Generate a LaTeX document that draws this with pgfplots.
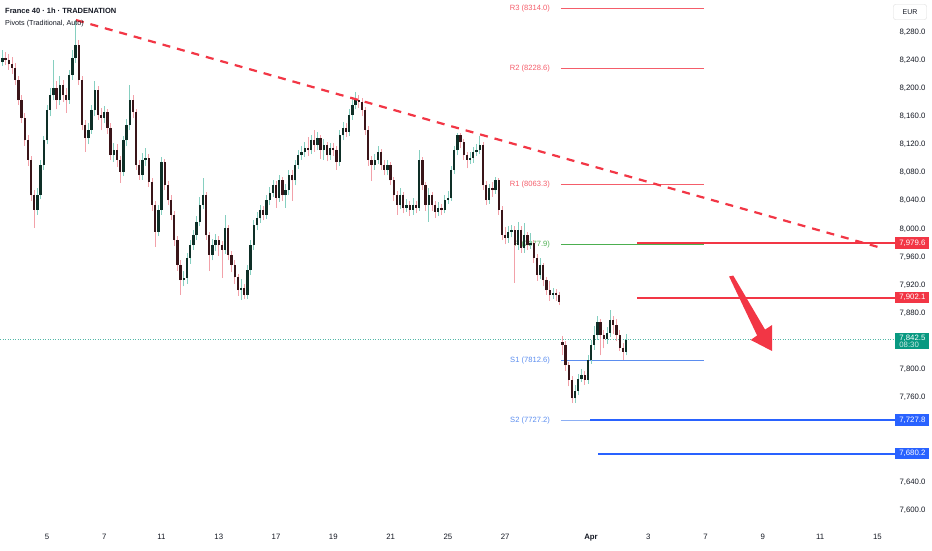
\documentclass[border=0pt]{standalone}
\usepackage{pgfplots}
\pgfplotsset{compat=1.18}
\usepackage{pgfplotstable}
\usepackage{fontspec}
\setmainfont{Liberation Sans}
\definecolor{tvred}{HTML}{F23645}
\definecolor{pivred}{HTML}{F45D6A}
\definecolor{pivgreen}{HTML}{4CAF50}
\definecolor{pivblue}{HTML}{5B8DEF}
\definecolor{tvblue}{HTML}{2962FF}
\definecolor{tvgreen}{HTML}{089981}
\definecolor{tvtext}{HTML}{131722}
\definecolor{wickup}{HTML}{86CFC0}
\definecolor{wickdown}{HTML}{F2A1A9}
\definecolor{bodyup}{HTML}{0E2F27}
\definecolor{bodydown}{HTML}{3A1519}
\pgfplotstableread{
n o h l c
3 8250 8262 8230 8237
4 8237 8255 8232 8243
5 8243 8252 8233 8240
6 8240 8248 8226 8234
7 8234 8244 8220 8229
8 8229 8236 8205 8212
9 8212 8218 8176 8183
10 8183 8190 8150 8158
11 8158 8165 8118 8126
12 8126 8134 8090 8098
13 8098 8104 8040 8048
14 8048 8055 8001 8027
15 8027 8058 8020 8048
16 8048 8098 8042 8091
17 8091 8132 8084 8126
18 8126 8176 8120 8169
19 8169 8200 8160 8190
20 8190 8240 8183 8200
21 8200 8210 8170 8183
22 8183 8218 8176 8205
23 8205 8212 8180 8190
24 8190 8200 8165 8183
25 8183 8226 8178 8219
26 8219 8255 8212 8243
27 8243 8297 8236 8262
28 8262 8268 8205 8212
29 8212 8218 8140 8148
30 8148 8155 8110 8129
31 8129 8150 8120 8141
32 8141 8176 8135 8169
33 8169 8210 8160 8197
34 8197 8203 8155 8162
35 8162 8172 8140 8158
36 8158 8175 8150 8166
37 8166 8170 8135 8144
38 8144 8150 8098 8105
39 8105 8122 8095 8112
40 8112 8120 8088 8098
41 8098 8104 8065 8081
42 8081 8132 8075 8126
43 8126 8156 8118 8148
44 8148 8205 8140 8183
45 8183 8190 8158 8166
46 8166 8170 8084 8091
47 8091 8098 8070 8077
48 8077 8108 8070 8098
49 8098 8115 8090 8101
50 8101 8106 8060 8067
51 8067 8072 8026 8034
52 8034 8040 7974 7996
53 7996 8034 7990 8027
54 8027 8102 8020 8095
55 8095 8100 8055 8062
56 8062 8068 8034 8041
57 8041 8048 8012 8020
58 8020 8026 7976 7984
59 7984 7990 7940 7949
60 7949 7955 7906 7927
61 7927 7940 7918 7930
62 7930 7966 7922 7959
63 7959 7984 7950 7977
64 7977 7999 7970 7991
65 7991 8018 7984 8010
66 8010 8045 8004 8034
67 8034 8072 8028 8048
68 8048 8052 7984 7991
69 7991 7996 7940 7963
70 7963 7986 7955 7977
71 7977 7992 7968 7984
72 7984 7990 7962 7977
73 7977 7982 7930 7970
74 7970 8020 7964 8001
75 8001 8006 7955 7963
76 7963 7968 7938 7949
77 7949 7955 7922 7931
78 7931 7936 7905 7913
79 7913 7928 7899 7916
80 7916 7922 7900 7906
81 7906 7948 7900 7941
82 7941 7984 7934 7977
83 7977 8012 7970 8005
84 8005 8024 7998 8015
85 8015 8034 8008 8027
86 8027 8032 8012 8020
87 8020 8048 8014 8041
88 8041 8060 8034 8051
89 8051 8070 8045 8062
90 8062 8068 8030 8044
91 8044 8076 8038 8069
92 8069 8074 8040 8048
93 8048 8064 8030 8055
94 8055 8084 8048 8077
95 8077 8083 8040 8069
96 8069 8098 8062 8091
97 8091 8112 8085 8105
98 8105 8118 8098 8109
99 8109 8124 8102 8115
100 8115 8130 8104 8112
101 8112 8134 8106 8126
102 8126 8140 8110 8119
103 8119 8138 8112 8129
104 8129 8134 8100 8112
105 8112 8128 8098 8119
106 8119 8124 8096 8105
107 8105 8122 8098 8115
108 8115 8122 8104 8112
109 8112 8118 8084 8095
110 8095 8140 8090 8133
111 8133 8152 8126 8144
112 8144 8150 8130 8138
113 8138 8170 8132 8162
114 8162 8184 8155 8176
115 8176 8195 8170 8183
116 8183 8190 8172 8180
117 8180 8186 8160 8169
118 8169 8174 8134 8141
119 8141 8146 8090 8098
120 8098 8104 8068 8091
121 8091 8106 8084 8098
122 8098 8118 8092 8109
123 8109 8114 8084 8091
124 8091 8098 8076 8084
125 8084 8098 8076 8091
126 8091 8095 8062 8069
127 8069 8074 8040 8048
128 8048 8054 8020 8034
129 8034 8058 8028 8048
130 8048 8052 8022 8030
131 8030 8042 8024 8034
132 8034 8040 8018 8027
133 8027 8044 8020 8034
134 8034 8040 8022 8030
135 8030 8112 8026 8098
136 8098 8102 8055 8062
137 8062 8066 8026 8034
138 8034 8058 8010 8048
139 8048 8052 8026 8034
140 8034 8040 8016 8024
141 8024 8038 8018 8030
142 8030 8036 8020 8027
143 8027 8048 8022 8041
144 8041 8054 8036 8044
145 8044 8090 8040 8084
146 8084 8118 8078 8112
147 8112 8137 8105 8133
148 8133 8136 8115 8123
149 8123 8128 8098 8105
150 8105 8110 8086 8098
151 8098 8110 8092 8101
152 8101 8116 8094 8109
153 8109 8120 8104 8112
154 8112 8132 8106 8119
155 8119 8124 8055 8062
156 8062 8068 8034 8041
157 8041 8064 8036 8058
158 8058 8066 8046 8055
159 8055 8074 8050 8069
160 8069 8072 8020 8027
161 8027 8032 7984 7991
162 7991 8002 7978 7987
163 7987 8004 7980 7996
164 7996 8006 7988 7998
165 7998 8004 7923 7977
166 7977 8010 7970 7998
167 7998 8004 7966 7973
168 7973 8008 7966 7991
169 7991 7996 7970 7977
170 7977 7994 7972 7980
171 7980 7984 7952 7959
172 7959 7964 7926 7934
173 7934 7958 7928 7949
174 7949 7952 7918 7927
175 7927 7932 7906 7913
176 7913 7926 7898 7906
177 7906 7916 7900 7909
178 7909 7914 7898 7906
179 7906 7910 7892 7896
180 7839 7848 7820 7835
181 7835 7840 7798 7806
182 7806 7810 7776 7785
183 7785 7790 7752 7759
184 7759 7778 7752 7770
185 7770 7794 7764 7787
186 7787 7800 7782 7792
187 7792 7798 7778 7785
188 7785 7820 7780 7813
189 7813 7842 7808 7835
190 7835 7862 7828 7849
191 7849 7876 7842 7867
192 7867 7872 7820 7849
193 7849 7856 7830 7844
194 7844 7860 7836 7852
195 7852 7884 7846 7870
196 7870 7876 7850 7863
197 7863 7872 7840 7849
198 7849 7856 7826 7831
199 7831 7838 7813 7825
200 7825 7850 7820 7842.5
}\candles
\begin{document}
\begin{tikzpicture}
\useasboundingbox (0,-23pt) rectangle (932pt,527pt);
\begin{axis}[
  at={(0,0)}, anchor=south west,
  scale only axis, width=885pt, height=527pt,
  xmin=3.226, xmax=281.4, ymin=7575.9, ymax=8325.5,
  clip=false,
  axis line style={draw=none},
  major tick length=0pt,
  ytick={7600,7640,7760,7800,7880,7920,7960,8000,8040,8080,8120,8160,8200,8240,8280},
  yticklabel pos=right,
  scaled y ticks=false,
  /pgf/number format/assume math mode=true,
  /pgf/number format/fixed,
  /pgf/number format/fixed zerofill,
  /pgf/number format/precision=1,
  /pgf/number format/1000 sep={,},
  yticklabel style={xshift=11pt},
  tick label style={font=\fontsize{7.8}{9}\selectfont, text=tvtext},
  xtick={18,36,54,72,90,108,126,144,162,189,207,225,243,261,279},
  xticklabels={5,7,11,13,17,19,21,25,27,\textbf{Apr},3,7,9,11,15},
  xticklabel style={yshift=-4pt},
]
% pivot labels
\node[anchor=east, text=pivred, font=\fontsize{7.6}{8}\selectfont] at (axis cs:177.2,8314.0) {R3 (8314.0)};
\node[anchor=east, text=pivred, font=\fontsize{7.6}{8}\selectfont] at (axis cs:177.2,8228.6) {R2 (8228.6)};
\node[anchor=east, text=pivred, font=\fontsize{7.6}{8}\selectfont] at (axis cs:177.2,8063.3) {R1 (8063.3)};
\node[anchor=east, text=pivgreen, font=\fontsize{7.6}{8}\selectfont] at (axis cs:177.2,7977.9) {P (7977.9)};
\node[anchor=east, text=pivblue, font=\fontsize{7.6}{8}\selectfont] at (axis cs:177.2,7812.6) {S1 (7812.6)};
\node[anchor=east, text=pivblue, font=\fontsize{7.6}{8}\selectfont] at (axis cs:177.2,7727.2) {S2 (7727.2)};
% pivot lines
\addplot[forget plot, pivred, line width=0.7pt] coordinates {(179.5,8314.0) (224.5,8314.0)};
\addplot[forget plot, pivred, line width=0.7pt] coordinates {(179.5,8228.6) (224.5,8228.6)};
\addplot[forget plot, pivred, line width=0.7pt] coordinates {(179.5,8063.3) (224.5,8063.3)};
\addplot[forget plot, pivgreen, line width=0.7pt] coordinates {(179.5,7977.9) (224.5,7977.9)};
\addplot[forget plot, pivblue, line width=0.7pt] coordinates {(179.5,7812.6) (224.5,7812.6)};
\addplot[forget plot, pivblue!70, line width=0.7pt] coordinates {(179.5,7727.2) (224.5,7727.2)};
% current price dotted line
\addplot[forget plot, tvgreen!70, line width=0.5pt, dash pattern=on 1pt off 1.5pt] coordinates {(3.226,7842.5) (284.6,7842.5)};
% wicks
\addplot[forget plot, draw=none, mark=none, error bars/.cd, y dir=plus, y explicit, error mark=none,
  error bar style={line width=0.7pt, draw=wickup}]
  table[x=n, y=l, y error plus expr={(\thisrow{c}>=\thisrow{o})*(\thisrow{h}-\thisrow{l})}] {\candles};
\addplot[forget plot, draw=none, mark=none, error bars/.cd, y dir=plus, y explicit, error mark=none,
  error bar style={line width=0.7pt, draw=wickdown}]
  table[x=n, y=l, y error plus expr={(\thisrow{c}<\thisrow{o})*(\thisrow{h}-\thisrow{l})}] {\candles};
% bodies
\addplot[forget plot, draw=none, mark=none, error bars/.cd, y dir=plus, y explicit, error mark=none,
  error bar style={line width=2.3pt, draw=bodyup}]
  table[x=n, y=o, y error plus expr={(\thisrow{c}>=\thisrow{o})*max(\thisrow{c}-\thisrow{o},1.2)}] {\candles};
\addplot[forget plot, draw=none, mark=none, error bars/.cd, y dir=plus, y explicit, error mark=none,
  error bar style={line width=2.3pt, draw=bodydown}]
  table[x=n, y=c, y error plus expr={(\thisrow{c}<\thisrow{o})*max(\thisrow{o}-\thisrow{c},1.2)}] {\candles};
% trend line
\addplot[forget plot, tvred, line width=2.2pt, dash pattern=on 8pt off 7pt] coordinates {(27.1,8297.0) (279.2,7974.2)};
% key levels
\addplot[forget plot, tvred, line width=2.3pt] coordinates {(203.5,7979.6) (284.6,7979.6)};
\addplot[forget plot, tvred, line width=2.3pt] coordinates {(203.5,7902.1) (284.6,7902.1)};
\addplot[forget plot, tvblue, line width=2.3pt] coordinates {(188.7,7727.8) (284.6,7727.8)};
\addplot[forget plot, tvblue, line width=2.3pt] coordinates {(191.2,7680.2) (284.6,7680.2)};
% arrow
\fill[tvred] (axis cs:232.4,7932.2) -- (axis cs:241.2,7848.4) -- (axis cs:239.2,7841.9) -- (axis cs:245.9,7826.2) -- (axis cs:245.9,7863.2) -- (axis cs:243.7,7856.7) -- (axis cs:233.7,7933.6) -- cycle;
% anchors for price boxes
\coordinate (bA) at (axis cs:284.6,7979.6);
\coordinate (bB) at (axis cs:284.6,7902.1);
\coordinate (bC) at (axis cs:284.6,7842.5);
\coordinate (bD) at (axis cs:284.6,7727.8);
\coordinate (bE) at (axis cs:284.6,7680.2);
\end{axis}
\tikzset{pbox/.style={anchor=west, text=white, inner xsep=2pt, inner ysep=1.5pt, minimum width=34pt, minimum height=11.5pt, font=\fontsize{7.8}{9}\selectfont}}
\node[pbox, fill=tvred] at (bA) {7,979.6};
\node[pbox, fill=tvred] at (bB) {7,902.1};
\node[pbox, fill=tvgreen, anchor=north west, align=left, inner ysep=1.5pt] at ([yshift=6.5pt]bC) {7,842.5\\[-1.5pt]{\color{white!80!tvgreen}08:30}};
\node[pbox, fill=tvblue] at (bD) {7,727.8};
\node[pbox, fill=tvblue] at (bE) {7,680.2};
% header
\node[anchor=west, text=tvtext, font=\fontsize{7.5}{9}\selectfont\bfseries, inner sep=0pt] at (5pt,516pt) {France 40 · 1h · TRADENATION};
\node[anchor=west, text=tvtext, font=\fontsize{7.2}{8}\selectfont, inner sep=0pt] at (5pt,503pt) {Pivots (Traditional, Auto)};
\node[draw=black!15, rounded corners=2pt, text=tvtext, minimum width=33pt, minimum height=15pt, font=\fontsize{7}{8}\selectfont] at (910pt,515pt) {EUR};
\end{tikzpicture}
\end{document}
